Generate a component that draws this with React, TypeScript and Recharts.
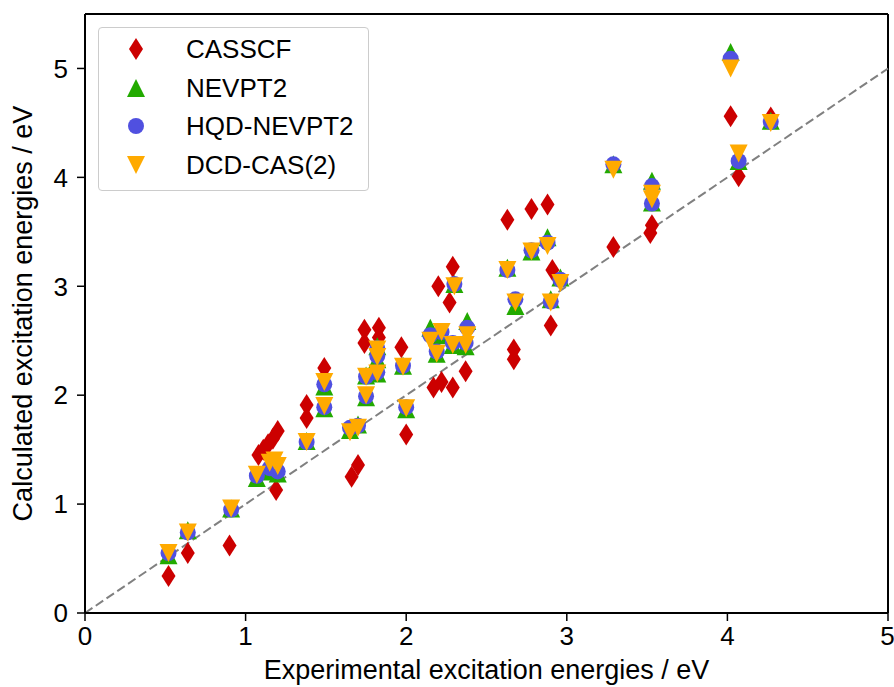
import React from "react";
import { ScatterChart, Scatter, XAxis, YAxis, ReferenceLine } from "recharts";

// experimental excitation energies (eV) for the CASSCF points
const casscfExp = [
  0.52, 0.64, 0.9, 1.19, 1.08, 1.11, 1.14, 1.17, 1.2, 1.38, 1.38, 1.49, 1.66, 1.7,
  1.74, 1.74, 1.83, 1.83, 1.97, 2.0, 2.17, 2.22, 2.29, 2.37, 2.2, 2.27, 2.29, 2.63,
  2.67, 2.67, 2.78, 2.88, 2.9, 2.91, 3.29, 3.52, 3.53, 4.02, 4.07, 4.27,
];
const casscfCalc = [
  0.34, 0.55, 0.62, 1.13, 1.45, 1.5, 1.55, 1.6, 1.67, 1.79, 1.91, 2.25, 1.25, 1.36,
  2.48, 2.6, 2.53, 2.62, 2.44, 1.64, 2.07, 2.12, 2.07, 2.22, 3.0, 2.85, 3.18, 3.61,
  2.33, 2.42, 3.71, 3.75, 2.64, 3.15, 3.36, 3.49, 3.56, 4.56, 4.01, 4.55,
];

// experimental energies shared by the perturbative methods
const ptExp = [
  0.52, 0.64, 0.91, 1.07, 1.15, 1.18, 1.2, 1.38, 1.49, 1.49, 1.65, 1.7, 1.75, 1.75,
  1.82, 1.82, 1.82, 1.98, 2.0, 2.15, 2.19, 2.22, 2.29, 2.3, 2.37, 2.38, 2.63, 2.68,
  2.78, 2.88, 2.9, 2.96, 3.29, 3.53, 3.53, 4.02, 4.07, 4.27,
];
const nevpt2 = [
  0.53, 0.76, 0.96, 1.24, 1.3, 1.33, 1.28, 1.58, 1.88, 2.08, 1.68, 1.73, 1.98, 2.18,
  2.2, 2.33, 2.45, 2.27, 1.87, 2.62, 2.38, 2.55, 2.46, 3.02, 2.45, 2.68, 3.17, 2.82,
  3.32, 3.45, 2.88, 3.08, 4.12, 3.97, 3.77, 5.15, 4.15, 4.52,
];
const hqdNevpt2 = [
  0.55, 0.74, 0.95, 1.26, 1.33, 1.36, 1.3, 1.57, 1.89, 2.1, 1.7, 1.72, 1.99, 2.17,
  2.21, 2.36, 2.43, 2.27, 1.89, 2.55, 2.4, 2.58, 2.48, 3.02, 2.48, 2.62, 3.15, 2.88,
  3.33, 3.4, 2.86, 3.06, 4.12, 3.92, 3.76, 5.09, 4.15, 4.51,
];
const dcdCas2 = [
  0.55, 0.74, 0.96, 1.27, 1.38, 1.4, 1.35, 1.57, 1.9, 2.12, 1.66, 1.7, 2.0, 2.17,
  2.2, 2.35, 2.42, 2.26, 1.88, 2.5, 2.38, 2.58, 2.46, 3.0, 2.46, 2.55, 3.15, 2.85,
  3.32, 3.37, 2.85, 3.03, 4.07, 3.85, 3.8, 5.0, 4.22, 4.5,
];

const xTicks = [0, 1, 2, 3, 4, 5];
const yTicks = [0, 1, 2, 3, 4, 5];

const toPoints = (xs: number[], ys: number[]) => xs.map((x, i) => ({ x, y: ys[i] }));

const COLORS = {
  casscf: "#cc0000",
  nevpt2: "#22aa00",
  hqd: "#5050e0",
  dcd: "#ffaa00",
};

const FONT = "'Liberation Sans', Arial, Helvetica, sans-serif";

const Diamond = ({ cx, cy, fill }: any) => (
  <path d={`M${cx},${cy - 11}L${cx + 7},${cy}L${cx},${cy + 11}L${cx - 7},${cy}Z`} fill={fill} />
);
const TriUp = ({ cx, cy, fill }: any) => (
  <path d={`M${cx},${cy - 9}L${cx + 9},${cy + 9}L${cx - 9},${cy + 9}Z`} fill={fill} />
);
const Dot = ({ cx, cy, fill }: any) => <circle cx={cx} cy={cy} r={8} fill={fill} />;
const TriDown = ({ cx, cy, fill }: any) => (
  <path d={`M${cx - 9},${cy - 9}L${cx + 9},${cy - 9}L${cx},${cy + 9}Z`} fill={fill} />
);

const legendItems = [
  { name: "CASSCF", color: COLORS.casscf, Shape: Diamond },
  { name: "NEVPT2", color: COLORS.nevpt2, Shape: TriUp },
  { name: "HQD-NEVPT2", color: COLORS.hqd, Shape: Dot },
  { name: "DCD-CAS(2)", color: COLORS.dcd, Shape: TriDown },
];

function LegendBox() {
  return (
    <div
      style={{
        position: "absolute",
        left: 98,
        top: 27,
        width: 269,
        height: 162,
        border: "1px solid #cccccc",
        borderRadius: 4,
        background: "rgba(255,255,255,0.85)",
        fontFamily: FONT,
        fontSize: 26,
        color: "#000",
      }}
    >
      {legendItems.map(({ name, color, Shape }, i) => (
        <div
          key={name}
          style={{ position: "absolute", left: 0, top: 21 + i * 38.5 - 15, height: 30, display: "flex", alignItems: "center" }}
        >
          <svg width={74} height={30} style={{ display: "block" }}>
            <Shape cx={37} cy={15} fill={color} />
          </svg>
          <span style={{ marginLeft: 13, lineHeight: "30px", whiteSpace: "nowrap" }}>{name}</span>
        </div>
      ))}
    </div>
  );
}

export default function App() {
  const tickStyle = { fontSize: 26, fill: "#000", fontFamily: FONT };
  return (
    <div style={{ position: "absolute", left: 0, top: 0, width: 894, height: 687, background: "#fff" }}>
      <ScatterChart width={894} height={687} margin={{ top: 14, right: 6, left: 0, bottom: 0 }}>
        <XAxis
          dataKey="x"
          type="number"
          domain={[0, 5]}
          ticks={xTicks}
          height={74}
          tickSize={8}
          tickMargin={6}
          tick={tickStyle}
          tickLine={{ stroke: "#000", strokeWidth: 1.5 }}
          axisLine={{ stroke: "#000", strokeWidth: 2 }}
          allowDataOverflow
          label={(props: any) => {
            const vb = props.viewBox;
            return (
              <text x={vb.x + vb.width / 2} y={679} textAnchor="middle" fontSize={27} fontFamily={FONT} fill="#000">
                Experimental excitation energies / eV
              </text>
            );
          }}
        />
        <YAxis
          dataKey="y"
          type="number"
          domain={[0, 5.5]}
          ticks={yTicks}
          width={85}
          tickSize={8}
          tickMargin={9}
          tick={tickStyle}
          tickLine={{ stroke: "#000", strokeWidth: 1.5 }}
          axisLine={{ stroke: "#000", strokeWidth: 2 }}
          allowDataOverflow
          label={(props: any) => {
            const vb = props.viewBox;
            const cy = vb.y + vb.height / 2;
            return (
              <text x={32} y={cy} transform={`rotate(-90, 32, ${cy})`} textAnchor="middle" fontSize={27} fontFamily={FONT} fill="#000">
                Calculated excitation energies / eV
              </text>
            );
          }}
        />
        {/* top and right frame lines */}
        <ReferenceLine y={5.5} stroke="#000" strokeWidth={2} ifOverflow="extendDomain" />
        <ReferenceLine x={5} stroke="#000" strokeWidth={2} ifOverflow="extendDomain" />
        <Scatter name="CASSCF" data={toPoints(casscfExp, casscfCalc)} fill={COLORS.casscf} shape={Diamond} isAnimationActive={false} />
        <Scatter name="NEVPT2" data={toPoints(ptExp, nevpt2)} fill={COLORS.nevpt2} shape={TriUp} isAnimationActive={false} />
        <Scatter name="HQD-NEVPT2" data={toPoints(ptExp, hqdNevpt2)} fill={COLORS.hqd} shape={Dot} isAnimationActive={false} />
        <Scatter name="DCD-CAS(2)" data={toPoints(ptExp, dcdCas2)} fill={COLORS.dcd} shape={TriDown} isAnimationActive={false} />
        <ReferenceLine
          segment={[{ x: 0, y: 0 }, { x: 5, y: 5 }]}
          stroke="#808080"
          strokeWidth={2}
          strokeDasharray="9 4"
        />
      </ScatterChart>
      <LegendBox />
    </div>
  );
}
